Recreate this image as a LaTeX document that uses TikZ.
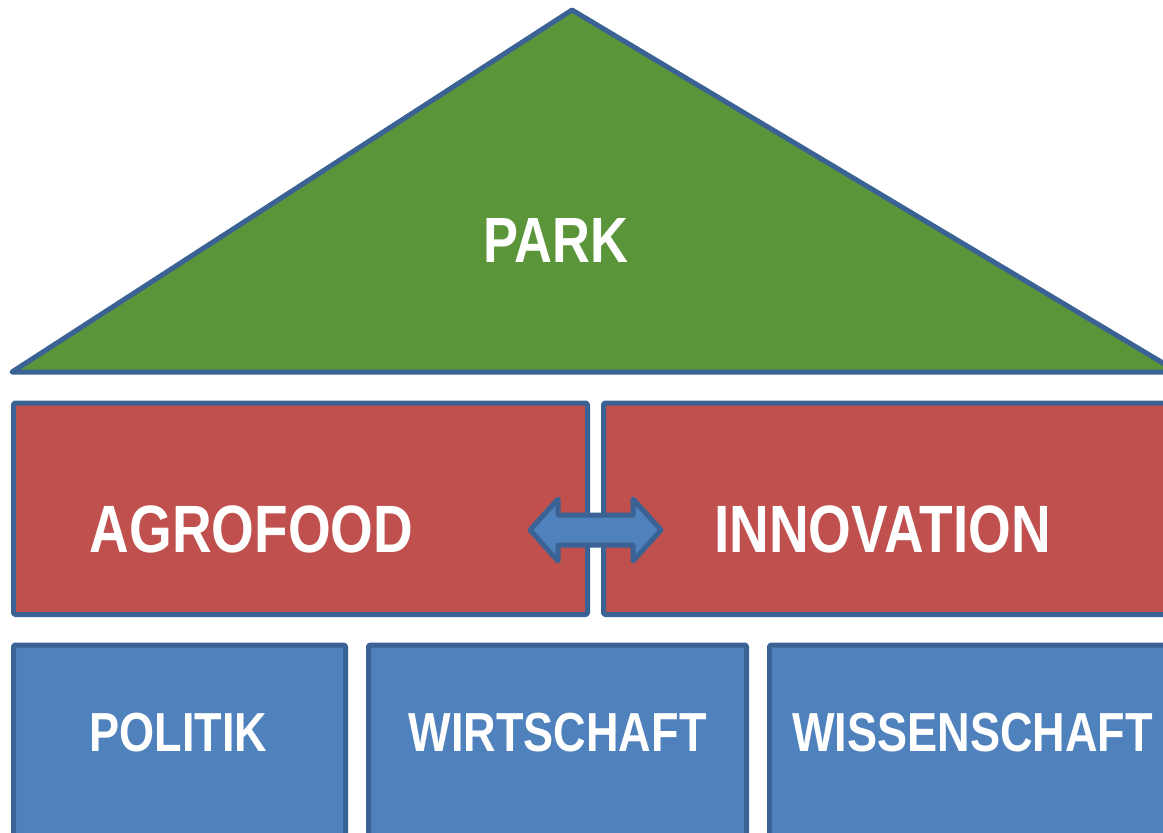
\documentclass[tikz,border=0pt]{standalone}
\usepackage{fontspec}
\setmainfont{Liberation Sans}[FakeStretch=0.82]
\usetikzlibrary{positioning}

\definecolor{rimblue}{HTML}{3A6295}
\definecolor{roofgreen}{HTML}{5A9639}
\definecolor{wallred}{HTML}{C0504D}
\definecolor{baseblue}{HTML}{4F81BD}

\begin{document}
\begin{tikzpicture}[x=1pt, y=-1pt, line width=5pt, line join=round,
    box/.style={draw=rimblue, rounded corners=2pt},
    word/.style={text=white, font=\bfseries, inner sep=0pt}]

    \useasboundingbox (0,0) rectangle (1163,833);

    % roof
    \draw[draw=rimblue, fill=roofgreen] (12,372) -- (572,10) -- (1178,372) -- cycle;
    \node[word, font=\bfseries\fontsize{64}{64}\selectfont] (Park) at (556,240) {PARK};

    % middle row
    \draw[box, fill=wallred] (13.5,403) rectangle (587.5,614.5);
    \draw[box, fill=wallred] (603.5,403) rectangle (1190,614.5);
    \node[word, font=\bfseries\fontsize{67}{67}\selectfont] (Agro) at (251.5,529) {AGROFOOD};
    \node[word, font=\bfseries\fontsize{67}{67}\selectfont] (Inno) at (882.5,529) {INNOVATION};

    % double arrow between
    \draw[draw=rimblue, fill=baseblue] (530,530) -- (558,499) -- (558,515) -- (633,515)
        -- (633,499) -- (661,530) -- (633,561) -- (633,545) -- (558,545) -- (558,561) -- cycle;

    % bottom row
    \draw[box, fill=baseblue] (13.5,645) rectangle (345.5,850);
    \draw[box, fill=baseblue] (368.5,645) rectangle (746.5,850);
    \draw[box, fill=baseblue] (769.5,645) rectangle (1190,850);
    \node[word, font=\bfseries\fontsize{55}{55}\selectfont] (Pol) at (178.5,732.5) {POLITIK};
    \node[word, font=\bfseries\fontsize{55}{55}\selectfont] (Wirt) at (557.5,732.5) {WIRTSCHAFT};
    \node[word, font=\bfseries\fontsize{55}{55}\selectfont] (Wiss) at (972.5,732.5) {WISSENSCHAFT};
\end{tikzpicture}
\end{document}
